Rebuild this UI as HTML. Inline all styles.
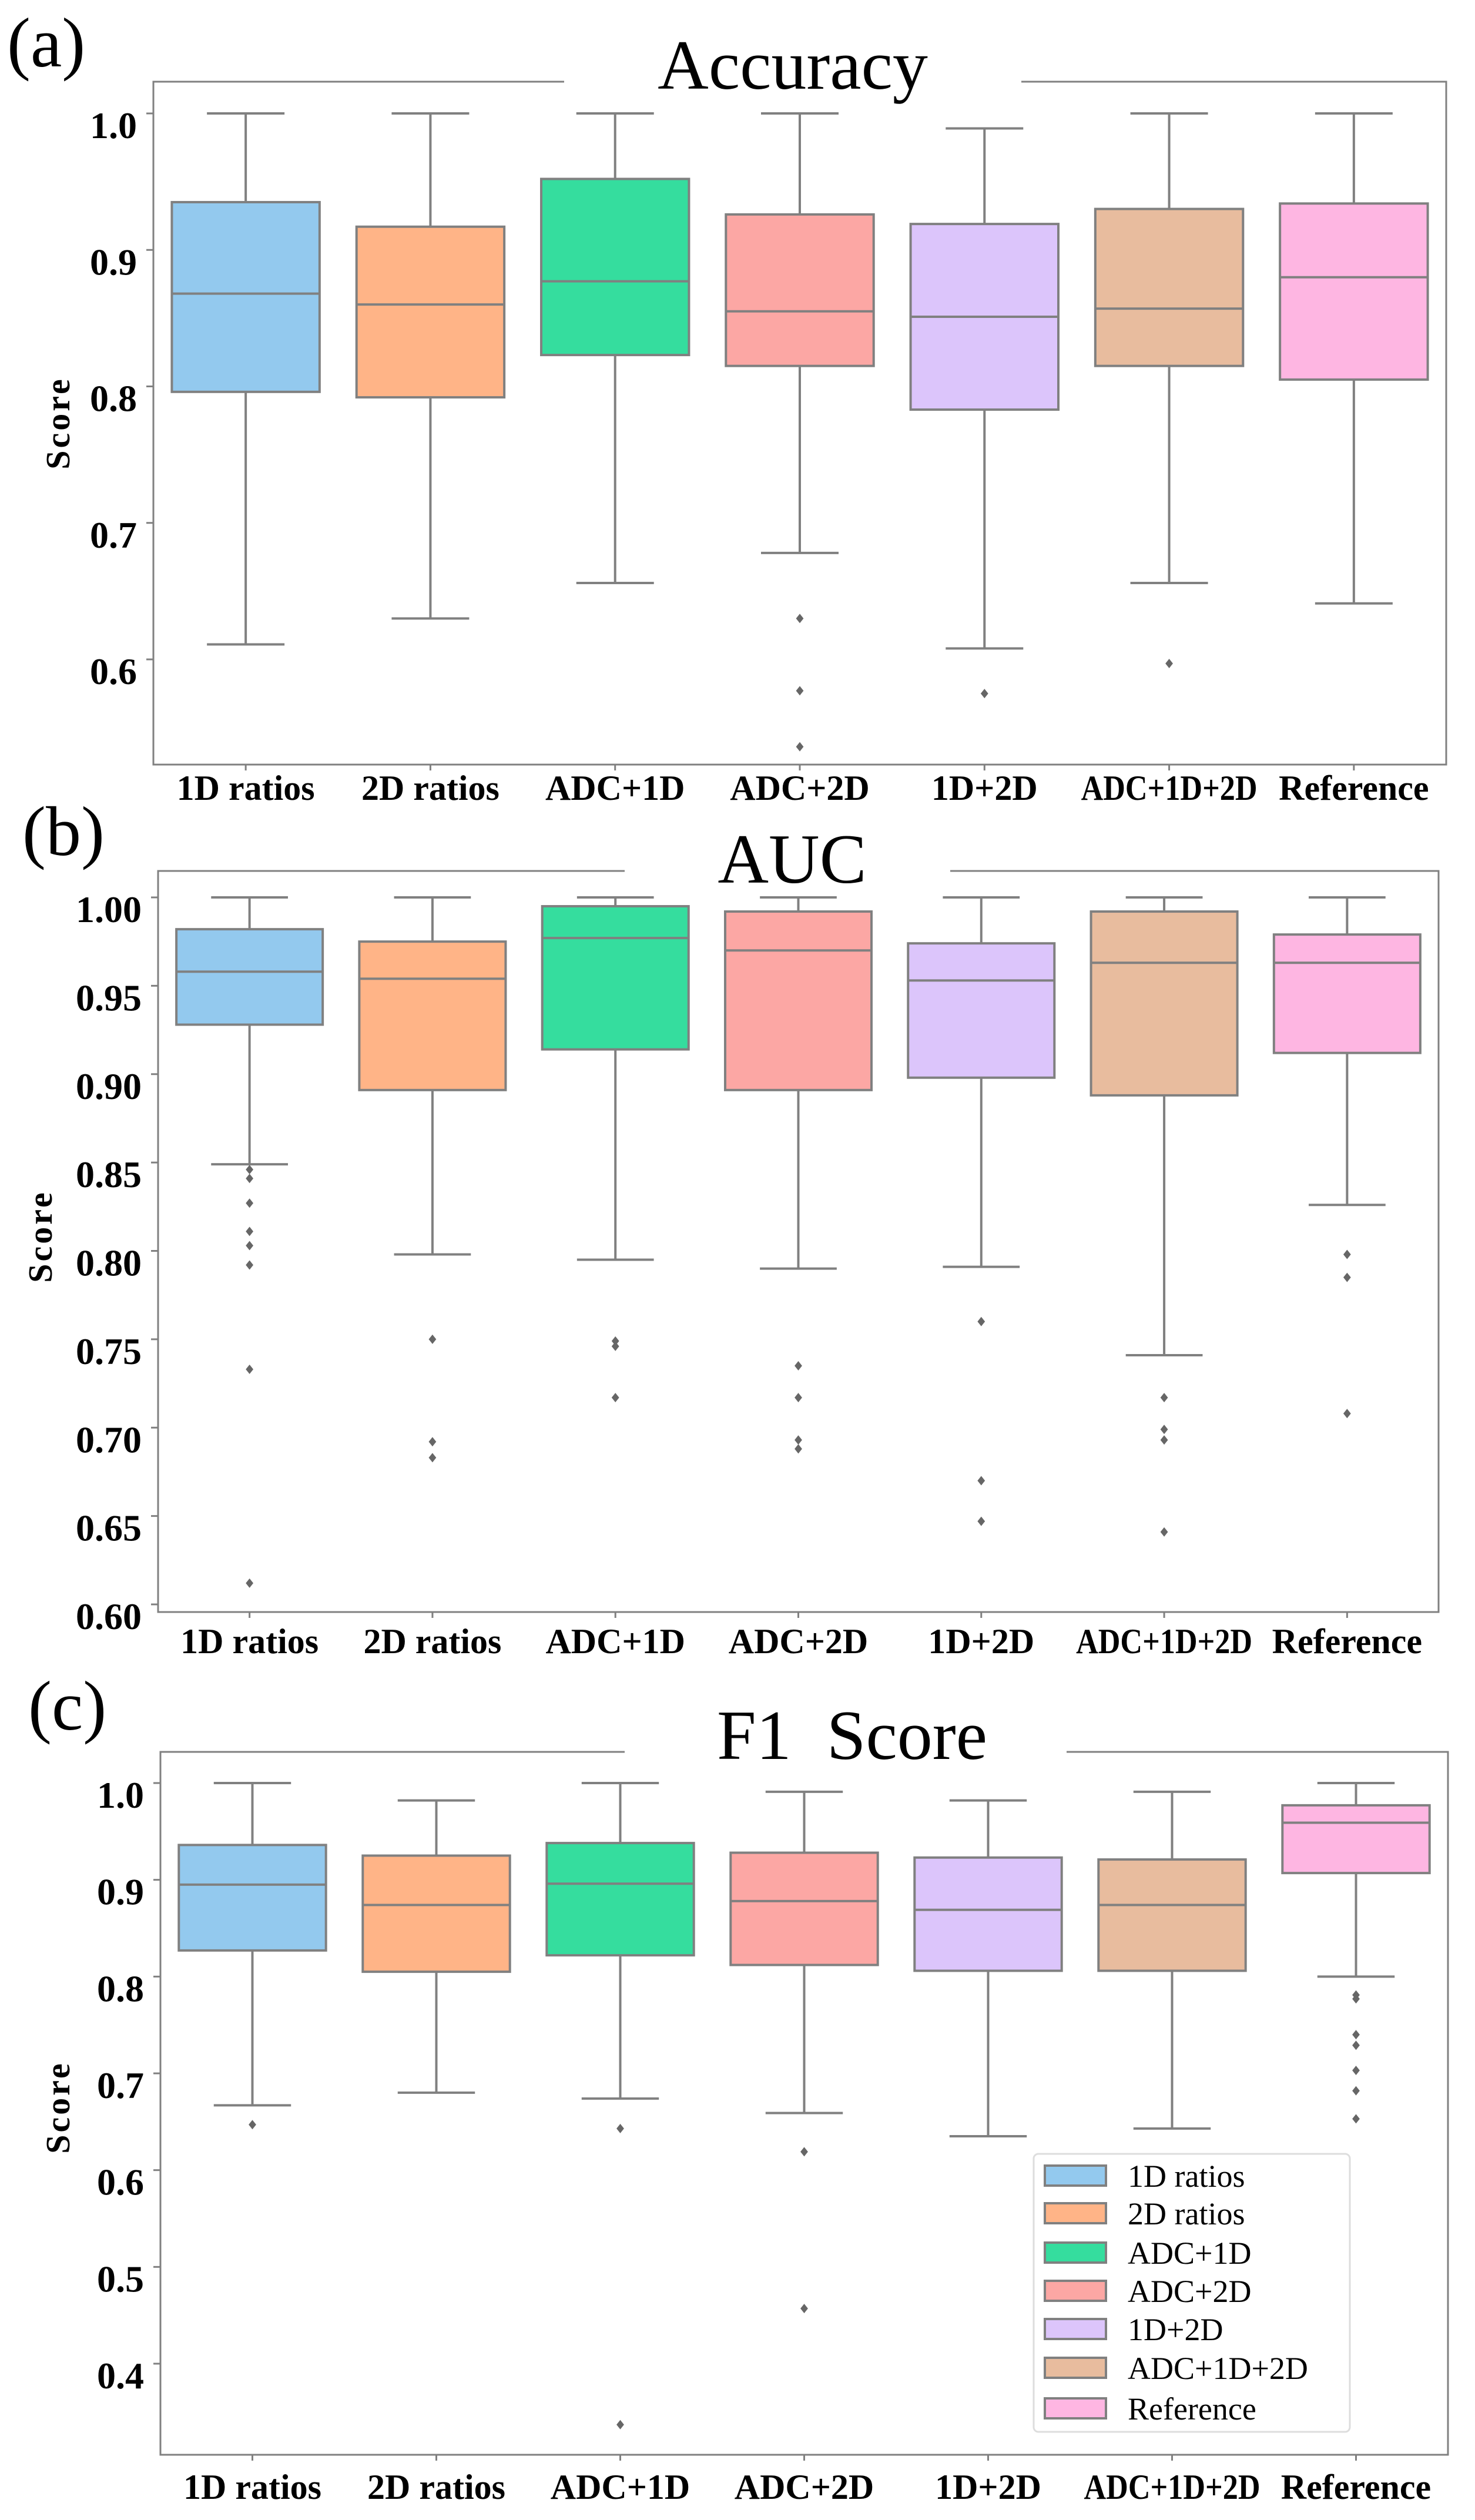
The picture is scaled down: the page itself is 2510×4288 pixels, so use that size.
<!DOCTYPE html>
<html><head><meta charset="utf-8"><title>Box plots</title>
<style>
html,body{margin:0;padding:0;background:#fff;}
svg{display:block;font-family:"Liberation Serif",serif;}
svg text{font-family:"Liberation Serif",serif;}
</style></head>
<body>
<svg id="fig" width="2510" height="4288" viewBox="0 0 2510 4288" xmlns="http://www.w3.org/2000/svg">
<rect width="2510" height="4288" fill="#fff"/>
</svg>
<script>
const categories = ["1D ratios","2D ratios","ADC+1D","ADC+2D","1D+2D","ADC+1D+2D","Reference"];
const colors = ["#93c9ee","#ffb487","#35dd9e","#fca7a4","#dcc5fb","#e8bc9e","#feb6e2"];

// Panel (a) Accuracy
const accHi  = [1.0,1.0,1.0,1.0,0.989,1.0,1.0];
const accQ3  = [0.935,0.917,0.952,0.926,0.919,0.930,0.934];
const accMed = [0.868,0.860,0.877,0.855,0.851,0.857,0.880];
const accQ1  = [0.796,0.792,0.823,0.815,0.783,0.815,0.805];
const accLo  = [0.611,0.630,0.656,0.678,0.608,0.656,0.641];
const accOut = [[],[],[],[0.630,0.577,0.536],[0.575],[0.597],[]];
const accTicks = [0.6,0.7,0.8,0.9,1.0];
const accTickLabels = ["0.6","0.7","0.8","0.9","1.0"];

// Panel (b) AUC
const aucHi  = [1.0,1.0,1.0,1.0,1.0,1.0,1.0];
const aucQ3  = [0.982,0.975,0.995,0.992,0.974,0.992,0.979];
const aucMed = [0.958,0.954,0.977,0.970,0.953,0.963,0.963];
const aucQ1  = [0.928,0.891,0.914,0.891,0.898,0.888,0.912];
const aucLo  = [0.849,0.798,0.795,0.790,0.791,0.741,0.826];
const aucOut = [[0.846,0.841,0.827,0.811,0.803,0.792,0.733,0.612],[0.750,0.692,0.683],[0.749,0.746,0.717],[0.735,0.717,0.693,0.688],[0.760,0.670,0.647],[0.717,0.699,0.693,0.641],[0.798,0.785,0.708]];
const aucTicks = [0.60,0.65,0.70,0.75,0.80,0.85,0.90,0.95,1.00];
const aucTickLabels = ["0.60","0.65","0.70","0.75","0.80","0.85","0.90","0.95","1.00"];

// Panel (c) F1 Score
const f1Hi  = [1.0,0.982,1.0,0.991,0.982,0.991,1.0];
const f1Q3  = [0.936,0.925,0.938,0.928,0.923,0.921,0.977];
const f1Med = [0.895,0.874,0.896,0.878,0.869,0.874,0.959];
const f1Q1  = [0.827,0.805,0.822,0.812,0.806,0.806,0.907];
const f1Lo  = [0.667,0.680,0.674,0.659,0.635,0.643,0.800];
const f1Out = [[0.647],[],[0.643,0.337],[0.619,0.457],[],[],[0.781,0.777,0.740,0.729,0.703,0.682,0.653]];
const f1Ticks = [0.4,0.5,0.6,0.7,0.8,0.9,1.0];
const f1TickLabels = ["0.4","0.5","0.6","0.7","0.8","0.9","1.0"];

const NS = "http://www.w3.org/2000/svg";
const svg = document.getElementById("fig");
const GRAY = "#808080";
function mk(tag, attrs, parent){
  const e = document.createElementNS(NS, tag);
  for (const k in attrs) e.setAttribute(k, attrs[k]);
  if (tag === "text") e.setAttribute("font-family", "Liberation Serif, serif");
  (parent||svg).appendChild(e);
  return e;
}

function panel(cfg, hi, q3, med, q1, lo, outs, ticks, tickLabels){
  const g = mk("g", {});
  
  
  const y = v => cfg.yA + (v - cfg.vA) * (cfg.yB - cfg.yA) / (cfg.vB - cfg.vA);
  const bw = (cfg.right - cfg.left) / categories.length;
  const x = i => cfg.left + bw * (i + 0.5);

  const lab = mk("text", {x: cfg.labX, y: cfg.labY, "font-size": 120, fill: "#000"}, g);
  lab.textContent = cfg.letter;
  
  

  const frame = mk("path", {d:
    `M${cfg.gapL},${cfg.top} L${cfg.left},${cfg.top} L${cfg.left},${cfg.bottom} L${cfg.right},${cfg.bottom} L${cfg.right},${cfg.top} L${cfg.gapR},${cfg.top}`,
    fill: "none", stroke: GRAY, "stroke-width": 3}, g);
  
  

  const title = mk("text", {x: cfg.titleX, y: cfg.titleY, "font-size": 120, "text-anchor": "middle", fill: "#000"}, g);
  title.setAttributeNS("http://www.w3.org/XML/1998/namespace", "xml:space", "preserve");
  title.textContent = cfg.title;
  
  

  ticks.forEach((t, k) => {
    const ty = y(t);
    const tl = mk("line", {x1: cfg.left - 12, x2: cfg.left, y1: ty, y2: ty, stroke: GRAY, "stroke-width": 3}, g);
    
    
    const tt = mk("text", {x: cfg.left - 28, y: ty + 42, "font-size": 64, "font-weight": "bold", "text-anchor": "end", fill: "#000"}, g);
    tt.textContent = tickLabels[k];
    
    
  });

  const yt = mk("text", {x: cfg.yTitleX, y: cfg.yTitleY, "font-size": 58, "font-weight": "bold", "letter-spacing": 4, "text-anchor": "middle",
    transform: `rotate(-90 ${cfg.yTitleX} ${cfg.yTitleY})`, fill: "#000"}, g);
  yt.textContent = "Score";
  
  

  categories.forEach((c, i) => {
    const cx = x(i);
    const xt = mk("line", {x1: cx, x2: cx, y1: cfg.bottom, y2: cfg.bottom + 10, stroke: GRAY, "stroke-width": 3}, g);
    
    
    const xl = mk("text", {x: cx, y: cfg.bottom + cfg.xLabOff, "font-size": 60, "font-weight": "bold", "text-anchor": "middle", fill: "#000"}, g);
    xl.textContent = c;
    
    
    const len = xl.getComputedTextLength ? xl.getComputedTextLength() : 0;
    if (len > 300) { xl.setAttribute("textLength", 300); xl.setAttribute("lengthAdjust", "spacingAndGlyphs"); }

    const box = mk("g", {}, g);
    
    
    const capHalf = bw * 0.21, boxHalf = bw * 0.4;
    const w1 = mk("line", {x1: cx, x2: cx, y1: y(hi[i]), y2: y(q3[i]), stroke: GRAY, "stroke-width": 4}, box);
    
    
    const w2 = mk("line", {x1: cx, x2: cx, y1: y(q1[i]), y2: y(lo[i]), stroke: GRAY, "stroke-width": 4}, box);
    
    
    const c1 = mk("line", {x1: cx - capHalf, x2: cx + capHalf, y1: y(hi[i]), y2: y(hi[i]), stroke: GRAY, "stroke-width": 4}, box);
    
    
    const c2 = mk("line", {x1: cx - capHalf, x2: cx + capHalf, y1: y(lo[i]), y2: y(lo[i]), stroke: GRAY, "stroke-width": 4}, box);
    
    
    const r = mk("rect", {x: cx - boxHalf, y: y(q3[i]), width: 2 * boxHalf, height: y(q1[i]) - y(q3[i]),
      fill: colors[i], stroke: GRAY, "stroke-width": 4}, box);
    
    
    const m = mk("line", {x1: cx - boxHalf, x2: cx + boxHalf, y1: y(med[i]), y2: y(med[i]), stroke: GRAY, "stroke-width": 4}, box);
    
    
    outs[i].forEach(v => {
      const oy = y(v), s = 8;
      const d = mk("path", {d: `M${cx},${oy - s} L${cx + s*0.8},${oy} L${cx},${oy + s} L${cx - s*0.8},${oy} Z`, fill: "#666"}, box);
      
      
    });
  });
  return g;
}

panel({key:"accuracy", letter:"(a)", labX:12, labY:113, title:"Accuracy", titleX:1349, titleY:151,
  left:261, right:2461, top:139, bottom:1301, gapL:960, gapR:1738,
  vA:1.0, yA:193, vB:0.6, yB:1122, xLabOff:60, yTitleX:118, yTitleY:720},
  accHi, accQ3, accMed, accQ1, accLo, accOut, accTicks, accTickLabels);

panel({key:"auc", letter:"(b)", labX:38, labY:1455, title:"AUC", titleX:1348, titleY:1502,
  left:269, right:2448, top:1482, bottom:2743, gapL:1063, gapR:1617,
  vA:1.0, yA:1527, vB:0.6, yB:2730, xLabOff:70, yTitleX:88, yTitleY:2104},
  aucHi, aucQ3, aucMed, aucQ1, aucLo, aucOut, aucTicks, aucTickLabels);

panel({key:"f1", letter:"(c)", labX:48, labY:2943, title:"F1  Score", titleX:1450, titleY:2993,
  left:273, right:2464, top:2981, bottom:4177, gapL:1063, gapR:1815,
  vA:1.0, yA:3034, vB:0.4, yB:4022, xLabOff:75, yTitleX:118, yTitleY:3586},
  f1Hi, f1Q3, f1Med, f1Q1, f1Lo, f1Out, f1Ticks, f1TickLabels);

const leg = mk("g", {});


const lb = mk("rect", {x: 1759, y: 3665, width: 538, height: 473, rx: 8, fill: "#fff", stroke: "#dddddd", "stroke-width": 3}, leg);


const legY = [3702, 3766, 3833, 3898, 3963, 4029, 4098];
categories.forEach((c, i) => {
  const e = mk("g", {}, leg);
  
  
  mk("rect", {x: 1778, y: legY[i] - 17, width: 104, height: 34, fill: colors[i], stroke: GRAY, "stroke-width": 4}, e);
  const t = mk("text", {x: 1919, y: legY[i] + 19, "font-size": 54, fill: "#000"}, e);
  t.textContent = c;
});
</script>
</body></html>
